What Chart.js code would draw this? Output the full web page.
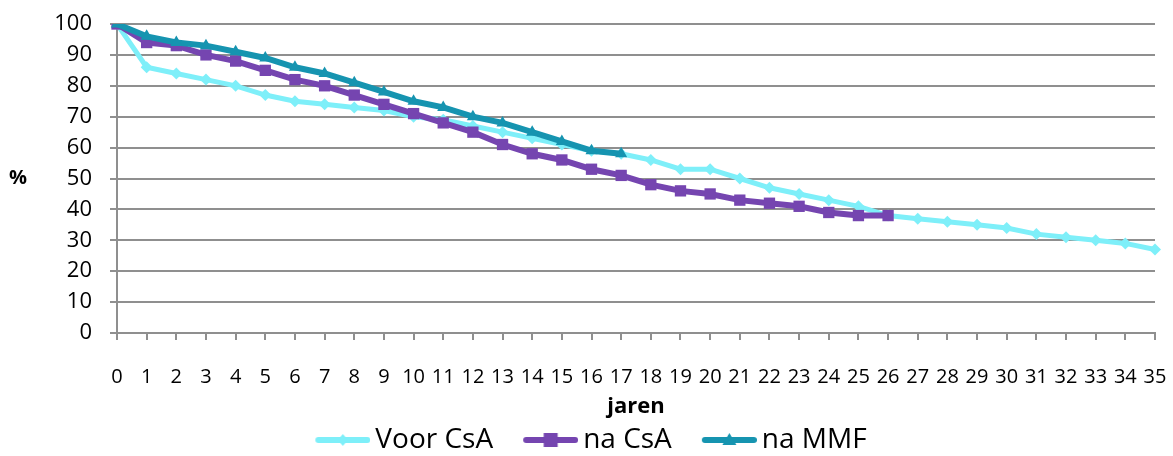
<!DOCTYPE html>
<html>
<head>
<meta charset="utf-8">
<script src="https://cdn.jsdelivr.net/npm/chart.js@4.4.1/dist/chart.umd.min.js"></script>
<style>
  html, body { margin: 0; padding: 0; background: #fff; }
  #myChart { display: block; }
</style>
</head>
<body>
<canvas id="myChart" width="1173" height="456" style="width:1173px;height:456px"></canvas>
<script>
// jaren 0..35
const jaren = ['0','1','2','3','4','5','6','7','8','9','10','11','12','13','14','15','16','17',
  '18','19','20','21','22','23','24','25','26','27','28','29','30','31','32','33','34','35'];

const voorCsA = [100, 86, 84, 82, 80, 77, 75, 74, 73, 72, 70, 69, 67, 65, 63, 61, 59, 58,
  56, 53, 53, 50, 47, 45, 43, 41, 38, 37, 36, 35, 34, 32, 31, 30, 29, 27];
const naCsA = [100, 94, 93, 90, 88, 85, 82, 80, 77, 74, 71, 68, 65, 61, 58, 56, 53, 51,
  48, 46, 45, 43, 42, 41, 39, 38, 38];
const naMMF = [100, 96, 94, 93, 91, 89, 86, 84, 81, 78, 75, 73, 70, 68, 65, 62, 59, 58];

const yTicks = [0, 10, 20, 30, 40, 50, 60, 70, 80, 90, 100];

const cLight = '#7eeff9';
const cPurple = '#7545b0';
const cTeal = '#1694b0';
const gridGray = '#8f8f8f';
const FONT = "'Open Sans', sans-serif";

// legend swatch: line with marker in the middle
// item layout: line starts 27px after item x, 55px long, text 5px after
const LEG_PAD = 3, LEG_FS = 28;
const lineStart = 27, lineEnd = 82, textStart = 87;
const boxW = textStart - LEG_FS / 2;
const center = boxW / 2;
const imgW = Math.round(2 * (lineEnd - center));
function swatch(color, kind) {
  const c = document.createElement('canvas');
  c.width = imgW; c.height = 18;
  const g = c.getContext('2d');
  const x0 = imgW / 2 - (center - lineStart), x1 = imgW;
  const y = 9;
  g.strokeStyle = color; g.lineWidth = 6; g.lineCap = 'round';
  g.beginPath(); g.moveTo(x0 + 3, y); g.lineTo(x1 - 3, y); g.stroke();
  g.fillStyle = color;
  const mx = (x0 + x1) / 2;
  g.beginPath();
  if (kind === 'diamond') {
    g.moveTo(mx, y - 6); g.lineTo(mx + 5, y); g.lineTo(mx, y + 6); g.lineTo(mx - 5, y);
  } else if (kind === 'square') {
    g.rect(mx - 7, y - 7, 14, 14);
  } else {
    g.moveTo(mx, y - 7); g.lineTo(mx + 7, y + 5); g.lineTo(mx - 7, y + 5);
  }
  g.closePath(); g.fill();
  return c;
}
const legendImgs = [swatch(cLight, 'diamond'), swatch(cPurple, 'square'), swatch(cTeal, 'tri')];

const percentLabel = {
  id: 'percentLabel',
  afterDraw(chart) {
    const ctx = chart.ctx, a = chart.chartArea;
    ctx.save();
    ctx.font = "bold 20px " + FONT;
    ctx.fillStyle = '#000';
    ctx.textAlign = 'center';
    ctx.textBaseline = 'middle';
    ctx.fillText('%', 18, (a.top + a.bottom) / 2);
    ctx.restore();
  }
};

const ctx = document.getElementById('myChart').getContext('2d');
const myChart = new Chart(ctx, {
  type: 'line',
  data: {
    labels: jaren,
    datasets: [
      {
        label: 'Voor CsA',
        data: voorCsA,
        borderColor: cLight,
        backgroundColor: cLight,
        borderWidth: 5,
        pointStyle: 'rectRot',
        pointRadius: 6,
        pointBorderWidth: 0,
        order: 3
      },
      {
        label: 'na CsA',
        data: naCsA,
        borderColor: cPurple,
        backgroundColor: cPurple,
        borderWidth: 6,
        pointStyle: 'rect',
        pointRadius: 8,
        pointBorderWidth: 0,
        order: 2
      },
      {
        label: 'na MMF',
        data: naMMF,
        borderColor: cTeal,
        backgroundColor: cTeal,
        borderWidth: 6,
        pointStyle: 'triangle',
        pointRadius: 7,
        pointBorderWidth: 0,
        order: 1
      }
    ]
  },
  options: {
    responsive: false,
    maintainAspectRatio: false,
    animation: false,
    devicePixelRatio: 1,
    layout: { padding: { left: 0, right: 18, top: 24, bottom: 0 } },
    plugins: {
      tooltip: { enabled: false },
      legend: {
        position: 'bottom',
        maxHeight: 33,
        labels: {
          usePointStyle: true,
          pointStyleWidth: boxW,
          padding: LEG_PAD,
          color: '#000',
          font: { family: FONT, size: LEG_FS },
          sort: (a, b) => a.datasetIndex - b.datasetIndex,
          generateLabels(chart) {
            return chart.data.datasets.map((ds, i) => ({
              text: ds.label,
              pointStyle: legendImgs[i],
              fillStyle: ds.borderColor,
              strokeStyle: ds.borderColor,
              lineWidth: 0,
              datasetIndex: i,
              hidden: false
            }));
          }
        }
      }
    },
    scales: {
      x: {
        type: 'category',
        offset: false,
        grid: { display: true, drawOnChartArea: false, tickLength: 7, color: gridGray, lineWidth: 2 },
        border: { color: gridGray, width: 2 },
        ticks: { autoSkip: false, maxRotation: 0, padding: 25, color: '#000', font: { family: FONT, size: 20 } },
        title: { display: true, text: 'jaren', color: '#000', font: { family: FONT, size: 22, weight: 'bold' }, padding: { top: 0, bottom: 3 } },
        afterFit(scale) {
          scale.height = 90;
          scale.paddingLeft = 0;
          scale.paddingRight = 0;
        }
      },
      y: {
        min: 0,
        max: 100,
        afterBuildTicks(scale) { scale.ticks = yTicks.map(v => ({ value: v })); },
        grid: { color: gridGray, lineWidth: 2, tickLength: 7 },
        border: { color: gridGray, width: 2 },
        ticks: { padding: 18, color: '#000', font: { family: FONT, size: 22 } },
        afterFit(scale) {
          scale.width = 117;
          scale.paddingTop = 0;
          scale.paddingBottom = 0;
        }
      }
    }
  },
  plugins: [percentLabel]
});
</script>
</body>
</html>
